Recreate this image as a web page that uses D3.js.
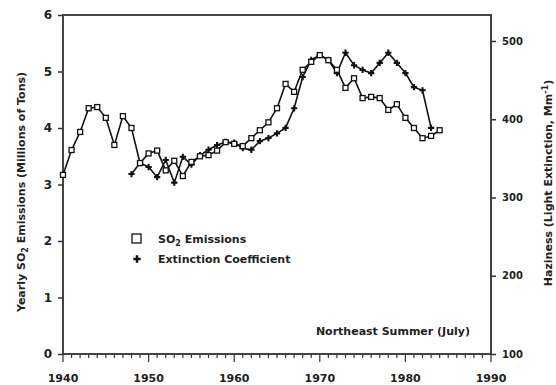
<!DOCTYPE html>
<html>
<head>
<meta charset="utf-8">
<script src="https://cdn.jsdelivr.net/npm/d3@7"></script>
<style>
  body { margin: 0; background: #fff; }
  text { font-family: "DejaVu Sans", sans-serif; font-weight: bold; fill: #222; }
</style>
</head>
<body>
<script>
// data
const so2Years = d3.range(1940, 1985);
const so2Values = [3.17, 3.61, 3.93, 4.35, 4.37, 4.18, 3.70, 4.21, 4.00, 3.38,
                   3.55, 3.60, 3.25, 3.42, 3.15, 3.40, 3.50, 3.52, 3.60, 3.75,
                   3.72, 3.68, 3.82, 3.96, 4.10, 4.35, 4.78, 4.64, 5.03, 5.17,
                   5.29, 5.20, 5.03, 4.71, 4.88, 4.53, 4.55, 4.53, 4.32, 4.42,
                   4.18, 4.00, 3.82, 3.86, 3.96];
const extYears = d3.range(1948, 1984);
const extValues = [330, 344, 339, 326, 348, 319, 352, 342, 354, 361,
                   367, 371, 370, 363, 361, 372, 376, 382, 389, 414,
                   454, 476, 482, 476, 459, 485, 469, 463, 459, 472,
                   485, 472, 459, 441, 437, 389];
const xTicks = [1940, 1950, 1960, 1970, 1980, 1990];
const leftTicks = [0, 1, 2, 3, 4, 5, 6];
const rightTicks = [100, 200, 300, 400, 500];

const W = 556, H = 385;
const pLeft = 63, pRight = 491, pTop = 15, pBottom = 354;

const svg = d3.select('body').append('svg')
    .attr('width', W)
    .attr('height', H);

const x  = d3.scaleLinear().domain([1940, 1990]).range([pLeft, pRight]);
const yL = d3.scaleLinear().domain([0, 6]).range([pBottom, pTop]);
const yR = d3.scaleLinear().domain([100, 500]).range([pBottom, 41]);

// frame
svg.append('rect')
    .attr('x', pLeft).attr('y', pTop)
    .attr('width', pRight - pLeft).attr('height', pBottom - pTop)
    .attr('fill', 'none').attr('stroke', '#444').attr('stroke-width', 2);

// bottom axis, minor ticks every year
const gx = svg.append('g').attr('transform', 'translate(0,' + pBottom + ')');
gx.selectAll('line.minor')
    .data(d3.range(1940, 1991))
    .enter().append('line')
    .attr('x1', d => x(d)).attr('x2', d => x(d))
    .attr('y1', 0).attr('y2', d => d % 10 === 0 ? 8 : 4)
    .attr('stroke', '#333').attr('stroke-width', 1.2);
gx.selectAll('text')
    .data(xTicks)
    .enter().append('text')
    .attr('x', d => x(d)).attr('y', 28)
    .attr('text-anchor', 'middle')
    .style('font-size', '11px')
    .text(d => d);

// left axis
const gl = svg.append('g').attr('transform', 'translate(' + pLeft + ',0)');
gl.call(d3.axisLeft(yL).tickValues(leftTicks).tickSize(5).tickPadding(6).tickFormat(d3.format('d')));
gl.select('.domain').remove();
gl.selectAll('.tick line').attr('stroke', '#333').attr('stroke-width', 1.5);
gl.selectAll('.tick text').style('font-size', '12px').attr('fill', '#222')
    .style('font-family', '"DejaVu Sans", sans-serif').style('font-weight', 'bold');

// right axis
const gr = svg.append('g').attr('transform', 'translate(' + pRight + ',0)');
gr.call(d3.axisRight(yR).tickValues(rightTicks).tickSize(5).tickPadding(6));
gr.select('.domain').remove();
gr.selectAll('.tick line').attr('stroke', '#333').attr('stroke-width', 1.5);
gr.selectAll('.tick text').style('font-size', '10px').attr('fill', '#222')
    .style('font-family', '"DejaVu Sans", sans-serif').style('font-weight', 'bold');

// lines
const so2 = so2Years.map((d, i) => ({year: d, v: so2Values[i]}));
const ext = extYears.map((d, i) => ({year: d, v: extValues[i]}));

svg.append('path')
    .datum(ext)
    .attr('fill', 'none').attr('stroke', '#111').attr('stroke-width', 1.6)
    .attr('d', d3.line().x(d => x(d.year)).y(d => yR(d.v)));

svg.append('path')
    .datum(so2)
    .attr('fill', 'none').attr('stroke', '#111').attr('stroke-width', 1.6)
    .attr('d', d3.line().x(d => x(d.year)).y(d => yL(d.v)));

// markers
const plus = d3.symbol().type(d3.symbolCross).size(22);
svg.selectAll('.ext')
    .data(ext)
    .enter().append('path')
    .attr('class', 'ext')
    .attr('transform', d => 'translate(' + x(d.year) + ',' + yR(d.v) + ')')
    .attr('d', plus).attr('fill', '#111');

svg.selectAll('.so2')
    .data(so2)
    .enter().append('rect')
    .attr('class', 'so2')
    .attr('x', d => x(d.year) - 2.5).attr('y', d => yL(d.v) - 2.5)
    .attr('width', 5).attr('height', 5)
    .attr('fill', '#fff').attr('stroke', '#111').attr('stroke-width', 1.3);

// legend
svg.append('rect')
    .attr('x', 132).attr('y', 234).attr('width', 9).attr('height', 9)
    .attr('fill', '#fff').attr('stroke', '#111').attr('stroke-width', 1.3);
svg.append('path')
    .attr('transform', 'translate(137,259)')
    .attr('d', d3.symbol().type(d3.symbolCross).size(30)).attr('fill', '#111');

const l1 = svg.append('text').attr('x', 158).attr('y', 243).style('font-size', '11px');
l1.append('tspan').text('SO');
l1.append('tspan').attr('dy', 3).style('font-size', '8px').text('2');
l1.append('tspan').attr('dy', -3).text(' Emissions');

svg.append('text').attr('x', 158).attr('y', 263).style('font-size', '11px')
    .text('Extinction Coefficient');

svg.append('text').attr('x', 470).attr('y', 335).attr('text-anchor', 'end')
    .style('font-size', '11px')
    .text('Northeast Summer (July)');

// axis titles
const tl = svg.append('text')
    .attr('transform', 'translate(25,' + 192 + ') rotate(-90)')
    .attr('text-anchor', 'middle')
    .style('font-size', '11px');
tl.append('tspan').text('Yearly SO');
tl.append('tspan').attr('dy', 3).style('font-size', '8px').text('2');
tl.append('tspan').attr('dy', -3).text(' Emissions (Millions of Tons)');

const tr = svg.append('text')
    .attr('transform', 'translate(552,' + 183 + ') rotate(-90)')
    .attr('text-anchor', 'middle')
    .style('font-size', '11px');
tr.append('tspan').text('Haziness (Light Extinction, Mm');
tr.append('tspan').attr('dy', -4).style('font-size', '8px').text('-1');
tr.append('tspan').attr('dy', 4).text(')');
</script>
</body>
</html>
